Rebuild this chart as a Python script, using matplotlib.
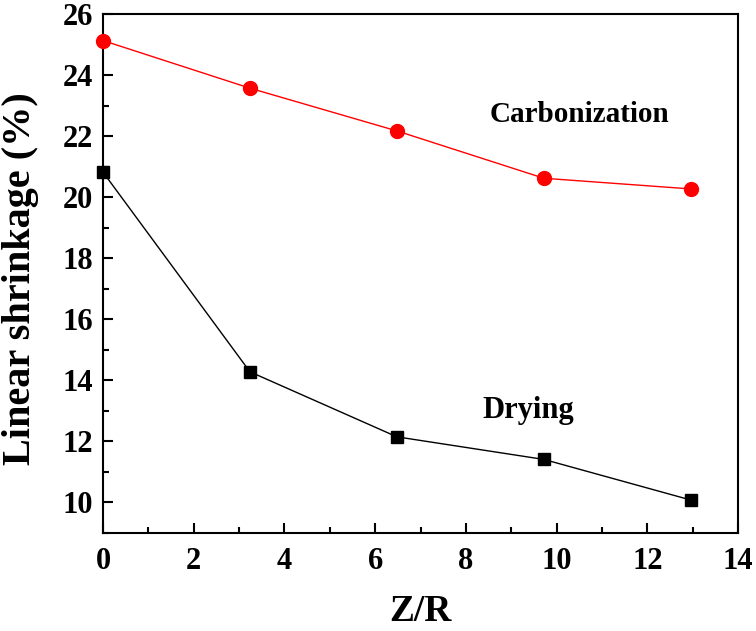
import numpy as np
import matplotlib
matplotlib.use("Agg")
import matplotlib.pyplot as plt
from matplotlib.ticker import MultipleLocator

# data
zr = [0.0, 3.24, 6.48, 9.72, 12.96]
carbonization = [25.13, 23.57, 22.17, 20.62, 20.27]
drying = [20.82, 14.28, 12.15, 11.41, 10.08]

plt.rcParams['font.family'] = ['Liberation Serif', 'DejaVu Serif']
plt.rcParams['font.weight'] = 'bold'

fig = plt.figure(figsize=(7.56, 6.31), dpi=100)
ax = fig.add_axes([103/756, 1 - 533/631, (738 - 103)/756, (533 - 14)/631])

ax.plot(zr, carbonization, '-o', color='#ff0000', lw=1, ms=10, clip_on=False, zorder=3)
ax.plot(zr, drying, '-s', color='black', lw=1, ms=8, clip_on=False, zorder=3)

ax.set_xlim(0, 14)
ax.set_ylim(9, 26)
ax.xaxis.set_major_locator(MultipleLocator(2))
ax.xaxis.set_minor_locator(MultipleLocator(1))
ax.yaxis.set_minor_locator(MultipleLocator(1))
ax.set_yticks(np.arange(10, 27, 2))
ax.tick_params(which='both', direction='in', labelsize=22, width=1.5)
ax.tick_params(axis='x', pad=10)
ax.tick_params(axis='y', pad=7)
ax.tick_params(which='major', length=7)
ax.tick_params(which='minor', length=4)
for s in ax.spines.values():
    s.set_linewidth(1.5)

ax.set_xlabel('Z/R', fontsize=27, fontweight='bold', va='top')
ax.xaxis.set_label_coords(0.5, -0.118)
ax.set_ylabel('Linear shrinkage (%)', fontsize=29, fontweight='bold')
ax.yaxis.set_label_coords(-0.1, 0.49)

ax.text(10.5, 22.7, 'Carbonization', fontsize=21, fontweight='bold', ha='center', va='center')
ax.text(9.37, 13.0, 'Drying', fontsize=22, fontweight='bold', ha='center', va='center')

fig.savefig('out.png', dpi=100)
